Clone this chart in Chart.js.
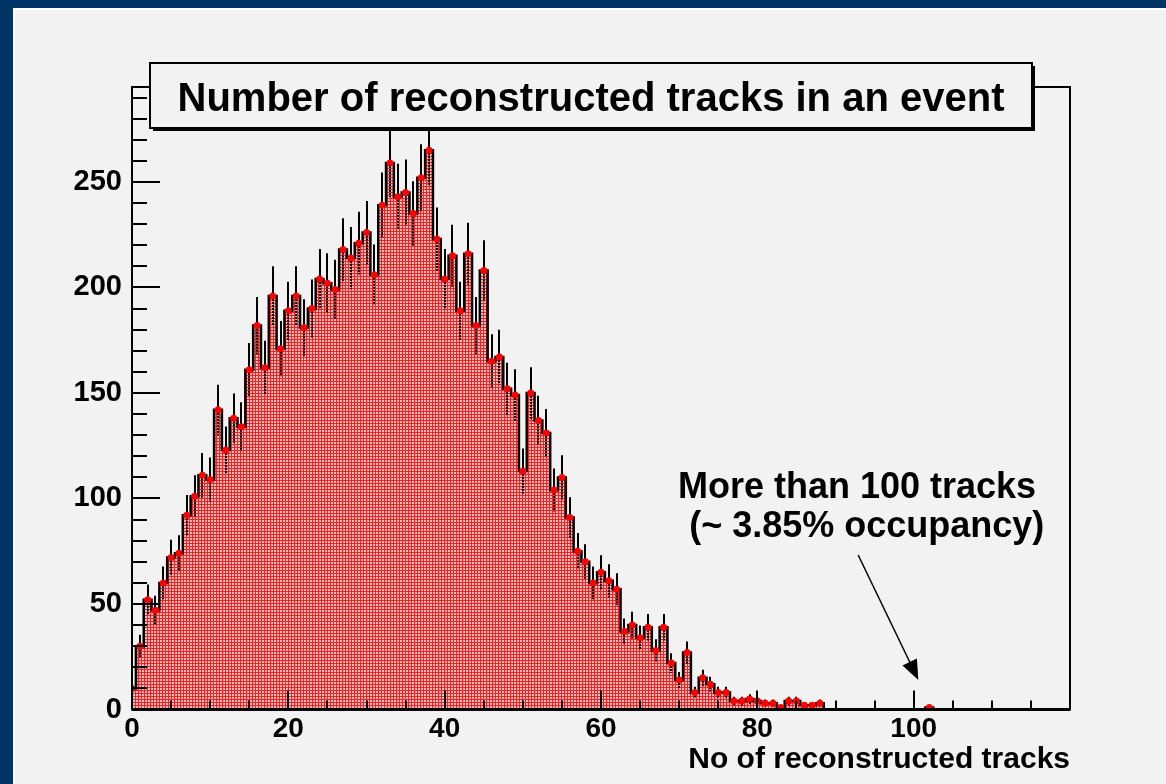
<!DOCTYPE html>
<html>
<head>
<meta charset="utf-8">
<script src="https://cdn.jsdelivr.net/npm/chart.js@4"></script>
<style>
html, body { margin: 0; padding: 0; }
body { width: 1166px; height: 784px; background: #003366; position: relative; overflow: hidden; }
#pad { position: absolute; left: 13px; top: 8px; right: 0; bottom: 0; background: #f2f2f2; border-left: 2px solid #ffffff; border-top: 2px solid #ffffff; }
#c { position: absolute; left: 0; top: 0; }
</style>
</head>
<body>
<div id="pad"></div>
<canvas id="c" width="1166" height="784"></canvas>
<script>
// entries per bin, bin i is centred on i tracks (0 .. 120)
const binCounts = [
  10, 30, 52, 47, 60, 72, 74, 92, 101, 111,
  109, 142, 123, 138, 134, 161, 182, 162, 196, 171,
  189, 196, 181, 190, 204, 202, 199, 218, 214, 221,
  226, 206, 239, 259, 243, 245, 235, 252, 265, 223,
  204, 215, 189, 216, 182, 208, 165, 167, 152, 149,
  113, 150, 137, 131, 104, 110, 91, 75, 70, 60,
  65, 61, 57, 37, 40, 34, 39, 28, 39, 22,
  14, 27, 8, 15, 12, 8, 8, 4, 4, 5,
  4, 3, 3, 1, 4, 4, 2, 2, 3, 0,
  0, 0, 0, 0, 0, 0, 0, 0, 0, 0,
  0, 0, 1, 0, 0, 0, 0, 0, 0, 0,
  0, 0, 0, 0, 0, 0, 0, 0, 0, 0,
  0
];
const xTickLabels = [0, 20, 40, 60, 80, 100];
const yTickLabels = [0, 50, 100, 150, 200, 250];
const xRange = [0, 120];
const yRange = [0, 295];
const titleText = 'Number of reconstructed tracks in an event';
const xAxisTitle = 'No of reconstructed tracks';
const noteLines = ['More than 100 tracks', '(~ 3.85% occupancy)'];
// note text anchors and arrow, in data units
const notePos = [[92.75, 100.3], [94.0, 81.8]];
const arrowFrom = [92.9, 73.2];
const arrowTo = [100.6, 14.0];

const FONT = "'Liberation Sans', Arial, Helvetica, sans-serif";

function makePattern() {
  const p = document.createElement('canvas');
  p.width = 3; p.height = 3;
  const g = p.getContext('2d');
  g.fillStyle = '#ec2424';
  g.fillRect(0, 0, 3, 3);
  g.fillStyle = '#ffb8b8';
  g.fillRect(1, 1, 2, 2);
  return g.createPattern(p, 'repeat');
}

const histDecor = {
  id: 'histDecor',
  beforeDatasetDraw(chart, args) {
    if (args.index !== 0) return;
    const { ctx, scales: { x, y } } = chart;
    ctx.save();
    ctx.strokeStyle = '#000';
    ctx.lineWidth = 2;
    binCounts.forEach((n, i) => {
      if (n <= 0) return;
      const err = Math.sqrt(n);
      const px = Math.round(x.getPixelForValue(i));
      ctx.setLineDash([]);
      ctx.beginPath();
      ctx.moveTo(px, y.getPixelForValue(n));
      ctx.lineTo(px, y.getPixelForValue(n + err));
      ctx.stroke();
      ctx.setLineDash([2, 1]);
      ctx.beginPath();
      ctx.moveTo(px, y.getPixelForValue(n));
      ctx.lineTo(px, y.getPixelForValue(Math.max(0, n - err)));
      ctx.stroke();
    });
    ctx.restore();
  },
  afterDatasetsDraw(chart) {
    const { ctx, chartArea: a, scales: { x, y } } = chart;
    ctx.save();
    ctx.strokeStyle = '#000';
    // frame
    ctx.lineWidth = 2;
    ctx.strokeRect(a.left, a.top, a.right - a.left, a.bottom - a.top);
    // axes
    ctx.lineWidth = 3;
    ctx.beginPath();
    ctx.moveTo(a.left, a.bottom);
    ctx.lineTo(a.right, a.bottom);
    ctx.stroke();
    ctx.lineWidth = 2;
    ctx.beginPath();
    ctx.moveTo(a.left, a.top);
    ctx.lineTo(a.left, a.bottom);
    ctx.stroke();
    // inward ticks
    ctx.lineWidth = 2;
    ctx.beginPath();
    for (let v = yRange[0]; v <= yRange[1]; v += 10) {
      const py = Math.round(y.getPixelForValue(v));
      ctx.moveTo(a.left, py);
      ctx.lineTo(a.left + (v % 50 === 0 ? 28 : 15), py);
    }
    for (let v = xRange[0]; v <= xRange[1]; v += 5) {
      const px = Math.round(x.getPixelForValue(v));
      ctx.moveTo(px, a.bottom);
      ctx.lineTo(px, a.bottom - (v % 20 === 0 ? 19 : 9));
    }
    ctx.stroke();

    // note and arrow
    ctx.fillStyle = '#000';
    ctx.font = 'bold 36px ' + FONT;
    ctx.textAlign = 'center';
    ctx.textBaseline = 'alphabetic';
    noteLines.forEach((t, k) => {
      ctx.fillText(t, x.getPixelForValue(notePos[k][0]), y.getPixelForValue(notePos[k][1]));
    });
    const x0 = x.getPixelForValue(arrowFrom[0]), y0 = y.getPixelForValue(arrowFrom[1]);
    const x1 = x.getPixelForValue(arrowTo[0]), y1 = y.getPixelForValue(arrowTo[1]);
    const ang = Math.atan2(y1 - y0, x1 - x0);
    const hl = 20, hw = 8;
    ctx.lineWidth = 1.5;
    ctx.beginPath();
    ctx.moveTo(x0, y0);
    ctx.lineTo(x1 - Math.cos(ang) * hl * 0.8, y1 - Math.sin(ang) * hl * 0.8);
    ctx.stroke();
    ctx.beginPath();
    ctx.moveTo(x1, y1);
    ctx.lineTo(x1 - Math.cos(ang) * hl - Math.sin(ang) * hw, y1 - Math.sin(ang) * hl + Math.cos(ang) * hw);
    ctx.lineTo(x1 - Math.cos(ang) * hl + Math.sin(ang) * hw, y1 - Math.sin(ang) * hl - Math.cos(ang) * hw);
    ctx.closePath();
    ctx.fill();

    // title box with shadow
    const bx = 150, by = 63, bw = 882, bh = 65;
    ctx.fillStyle = '#000';
    ctx.fillRect(bx + 3, by + 3, bw, bh);
    ctx.fillStyle = '#f2f2f2';
    ctx.fillRect(bx, by, bw, bh);
    ctx.lineWidth = 2;
    ctx.strokeRect(bx, by, bw, bh);
    ctx.fillStyle = '#000';
    ctx.font = 'bold 40px ' + FONT;
    ctx.textAlign = 'center';
    ctx.fillText(titleText, bx + bw / 2, 111);
    ctx.restore();
  }
};

const pattern = makePattern();
const histPoints = binCounts.map((c, i) => ({ x: i, y: c }));
const markerPoints = histPoints.filter(p => p.y > 0);

new Chart(document.getElementById('c').getContext('2d'), {
  type: 'line',
  data: {
    datasets: [
      {
        label: 'markers',
        data: markerPoints,
        showLine: false,
        pointRadius: 3.5,
        pointBackgroundColor: '#ff0000',
        pointBorderColor: '#ff0000',
        pointBorderWidth: 0,
        borderColor: '#ff0000'
      },
      {
        label: 'tracks',
        data: histPoints,
        stepped: 'middle',
        borderColor: '#000000',
        borderWidth: 2.5,
        backgroundColor: pattern,
        fill: 'origin',
        pointRadius: 0
      }
    ]
  },
  options: {
    responsive: false,
    animation: false,
    events: [],
    layout: { padding: { left: 0, top: 87, right: 96, bottom: 0 } },
    plugins: { legend: { display: false }, tooltip: { enabled: false } },
    scales: {
      x: {
        type: 'linear',
        min: xRange[0],
        max: xRange[1],
        grid: { display: false, drawTicks: false },
        border: { display: false },
        afterBuildTicks: s => { s.ticks = xTickLabels.map(v => ({ value: v })); },
        afterFit: s => { s.height = 74.5; },
        ticks: {
          padding: 3,
          color: '#000',
          maxRotation: 0,
          font: { family: FONT, size: 28, weight: 'bold' }
        },
        title: {
          display: true,
          text: xAxisTitle,
          align: 'end',
          color: '#000',
          padding: { top: 0, bottom: 6 },
          font: { family: FONT, size: 30, weight: 'bold' }
        }
      },
      y: {
        min: yRange[0],
        max: yRange[1],
        grid: { display: false, drawTicks: false },
        border: { display: false },
        afterBuildTicks: s => { s.ticks = yTickLabels.map(v => ({ value: v })); },
        afterFit: s => { s.width = 132; },
        ticks: {
          padding: 10,
          color: '#000',
          font: { family: FONT, size: 29, weight: 'bold' }
        }
      }
    }
  },
  plugins: [histDecor]
});
</script>
</body>
</html>
